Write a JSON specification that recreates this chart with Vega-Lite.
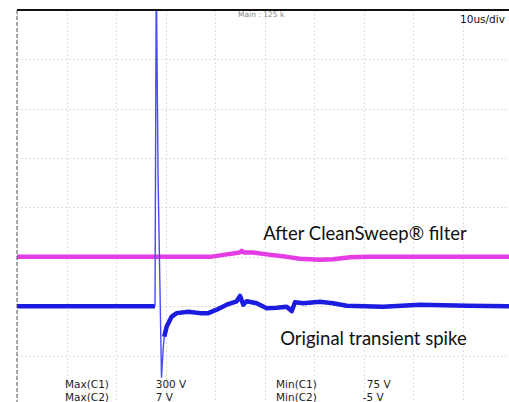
{
  "$schema": "https://vega.github.io/schema/vega-lite/v6.json",
  "autosize": "none",
  "padding": {"left": 17, "top": 10, "right": 0, "bottom": 0},
  "width": 492,
  "height": 392,
  "background": "white",
  "config": {"view": {"stroke": null}},
  "datasets": {
    "traces": [
      {"series": "filtered", "segment": "a", "t": 0, "v": -1.0},
      {"series": "filtered", "segment": "a", "t": 20, "v": -1.0},
      {"series": "filtered", "segment": "a", "t": 38.99, "v": -1.0},
      {"series": "filtered", "segment": "a", "t": 42.36, "v": -0.95},
      {"series": "filtered", "segment": "a", "t": 45.0, "v": -0.91},
      {"series": "filtered", "segment": "a", "t": 45.39, "v": -0.88},
      {"series": "filtered", "segment": "a", "t": 45.8, "v": -0.91},
      {"series": "filtered", "segment": "a", "t": 47.68, "v": -0.91},
      {"series": "filtered", "segment": "a", "t": 50.44, "v": -0.95},
      {"series": "filtered", "segment": "a", "t": 54.48, "v": -1.0},
      {"series": "filtered", "segment": "a", "t": 57.17, "v": -1.04},
      {"series": "filtered", "segment": "a", "t": 61.21, "v": -1.06},
      {"series": "filtered", "segment": "a", "t": 63.84, "v": -1.05},
      {"series": "filtered", "segment": "a", "t": 67.27, "v": -1.01},
      {"series": "filtered", "segment": "a", "t": 70.65, "v": -1.0},
      {"series": "filtered", "segment": "a", "t": 85, "v": -1.0},
      {"series": "filtered", "segment": "a", "t": 99.39, "v": -1.0},
      {"series": "original", "segment": "before", "t": 0, "v": -2.0},
      {"series": "original", "segment": "before", "t": 15, "v": -2.0},
      {"series": "original", "segment": "before", "t": 27.88, "v": -2.0},
      {"series": "original", "segment": "after", "t": 29.75, "v": -2.62},
      {"series": "original", "segment": "after", "t": 30.24, "v": -2.41},
      {"series": "original", "segment": "after", "t": 31.25, "v": -2.21},
      {"series": "original", "segment": "after", "t": 32.26, "v": -2.14},
      {"series": "original", "segment": "after", "t": 34.61, "v": -2.11},
      {"series": "original", "segment": "after", "t": 36.97, "v": -2.14},
      {"series": "original", "segment": "after", "t": 38.65, "v": -2.14},
      {"series": "original", "segment": "after", "t": 40.34, "v": -2.07},
      {"series": "original", "segment": "after", "t": 42.36, "v": -1.97},
      {"series": "original", "segment": "after", "t": 44.38, "v": -1.9},
      {"series": "original", "segment": "after", "t": 45.05, "v": -1.79},
      {"series": "original", "segment": "after", "t": 45.72, "v": -1.97},
      {"series": "original", "segment": "after", "t": 46.4, "v": -1.9},
      {"series": "original", "segment": "after", "t": 48.42, "v": -1.94},
      {"series": "original", "segment": "after", "t": 50.44, "v": -2.04},
      {"series": "original", "segment": "after", "t": 52.46, "v": -2.03},
      {"series": "original", "segment": "after", "t": 54.48, "v": -2.01},
      {"series": "original", "segment": "after", "t": 55.49, "v": -2.1},
      {"series": "original", "segment": "after", "t": 56.16, "v": -1.92},
      {"series": "original", "segment": "after", "t": 57.84, "v": -1.94},
      {"series": "original", "segment": "after", "t": 61.21, "v": -1.91},
      {"series": "original", "segment": "after", "t": 63.84, "v": -1.94},
      {"series": "original", "segment": "after", "t": 66.61, "v": -1.99},
      {"series": "original", "segment": "after", "t": 73.94, "v": -2.01},
      {"series": "original", "segment": "after", "t": 81.41, "v": -1.97},
      {"series": "original", "segment": "after", "t": 90.91, "v": -1.99},
      {"series": "original", "segment": "after", "t": 99.39, "v": -2.0},
      {"series": "spike", "segment": "s", "t": 27.88, "v": -2.0},
      {"series": "spike", "segment": "s", "t": 28.12, "v": 4.5},
      {"series": "spike", "segment": "s", "t": 28.16, "v": 4.5},
      {"series": "spike", "segment": "s", "t": 28.5, "v": 0.6},
      {"series": "spike", "segment": "s", "t": 29.19, "v": -3.45},
      {"series": "spike", "segment": "s", "t": 29.56, "v": -2.82},
      {"series": "spike", "segment": "s", "t": 29.75, "v": -2.62}
    ],
    "labels": [
      {"kind": "annotation", "t": 70.3, "v": -0.53, "text": "After CleanSweep® filter"},
      {"kind": "annotation", "t": 72.0, "v": -2.67, "text": "Original transient spike"},
      {"kind": "readout", "t": 9.7, "v": -3.605, "text": "Max(C1)"},
      {"kind": "readout", "t": 9.7, "v": -3.85, "text": "Max(C2)"},
      {"kind": "readout", "t": 28.02, "v": -3.605, "text": "300 V"},
      {"kind": "readout", "t": 28.02, "v": -3.85, "text": "7 V"},
      {"kind": "readout", "t": 52.32, "v": -3.605, "text": "Min(C1)"},
      {"kind": "readout", "t": 52.32, "v": -3.85, "text": "Min(C2)"},
      {"kind": "readout", "t": 70.65, "v": -3.605, "text": "75 V"},
      {"kind": "readout", "t": 69.84, "v": -3.85, "text": "-5 V"},
      {"kind": "main", "t": 44.65, "v": 3.9, "text": "Main : 125 k"},
      {"kind": "timebase", "t": 89.5, "v": 3.8, "text": "10us/div"}
    ]
  },
  "layer": [
    {
      "data": {"name": "traces"},
      "transform": [{"filter": "datum.series === 'filtered'"}],
      "mark": {"type": "line", "color": "#e53de5", "strokeWidth": 4.5, "strokeJoin": "round", "clip": true},
      "encoding": {
        "x": {"field": "t", "type": "quantitative", "scale": {"domain": [0, 99.39], "nice": false, "zero": false},
              "axis": {"values": [0, 10, 20, 30, 40, 50, 60, 70, 80, 90], "grid": true, "gridDash": [1, 3], "gridColor": "#bcbcbc", "domain": false, "ticks": false, "labels": false, "title": null}},
        "y": {"field": "v", "type": "quantitative", "scale": {"domain": [-3.94, 4], "nice": false, "zero": false},
              "axis": {"values": [-3, -2, -1, 0, 1, 2, 3], "grid": true, "gridDash": [1, 3], "gridColor": "#bcbcbc", "domain": false, "ticks": false, "labels": false, "title": null}},
        "detail": {"field": "segment"}
      }
    },
    {
      "data": {"name": "traces"},
      "transform": [{"filter": "datum.series === 'original'"}],
      "mark": {"type": "line", "color": "#1c1ce0", "strokeWidth": 4.5, "strokeJoin": "round", "clip": true},
      "encoding": {
        "x": {"field": "t", "type": "quantitative"},
        "y": {"field": "v", "type": "quantitative"},
        "detail": {"field": "segment"}
      }
    },
    {
      "data": {"name": "traces"},
      "transform": [{"filter": "datum.series === 'spike'"}],
      "mark": {"type": "line", "color": "#4a4aff", "strokeWidth": 1.4, "clip": true},
      "encoding": {
        "x": {"field": "t", "type": "quantitative"},
        "y": {"field": "v", "type": "quantitative"},
        "detail": {"field": "segment"}
      }
    },
    {
      "data": {"values": [{}]},
      "mark": {"type": "rule", "color": "#111111", "strokeWidth": 2},
      "encoding": {"y": {"datum": 4}}
    },
    {
      "data": {"values": [{}]},
      "mark": {"type": "rule", "color": "#555555", "strokeWidth": 1, "strokeDash": [4, 2]},
      "encoding": {"x": {"datum": 0}}
    },
    {
      "data": {"name": "labels"},
      "transform": [{"filter": "datum.kind === 'annotation'"}],
      "mark": {"type": "text", "font": "Lato", "fontSize": 18.5, "color": "#111111", "align": "center", "baseline": "middle"},
      "encoding": {
        "x": {"field": "t", "type": "quantitative"},
        "y": {"field": "v", "type": "quantitative"},
        "text": {"field": "text"}
      }
    },
    {
      "data": {"name": "labels"},
      "transform": [{"filter": "datum.kind === 'readout'"}],
      "mark": {"type": "text", "font": "DejaVu Sans", "fontSize": 10.5, "color": "#222222", "align": "left", "baseline": "middle"},
      "encoding": {
        "x": {"field": "t", "type": "quantitative"},
        "y": {"field": "v", "type": "quantitative"},
        "text": {"field": "text"}
      }
    },
    {
      "data": {"name": "labels"},
      "transform": [{"filter": "datum.kind === 'main'"}],
      "mark": {"type": "text", "font": "DejaVu Sans", "fontSize": 7.5, "color": "#888888", "align": "left", "baseline": "middle"},
      "encoding": {
        "x": {"field": "t", "type": "quantitative"},
        "y": {"field": "v", "type": "quantitative"},
        "text": {"field": "text"}
      }
    },
    {
      "data": {"name": "labels"},
      "transform": [{"filter": "datum.kind === 'timebase'"}],
      "mark": {"type": "text", "font": "DejaVu Sans", "fontSize": 10.5, "color": "#111111", "align": "left", "baseline": "middle"},
      "encoding": {
        "x": {"field": "t", "type": "quantitative"},
        "y": {"field": "v", "type": "quantitative"},
        "text": {"field": "text"}
      }
    }
  ]
}
